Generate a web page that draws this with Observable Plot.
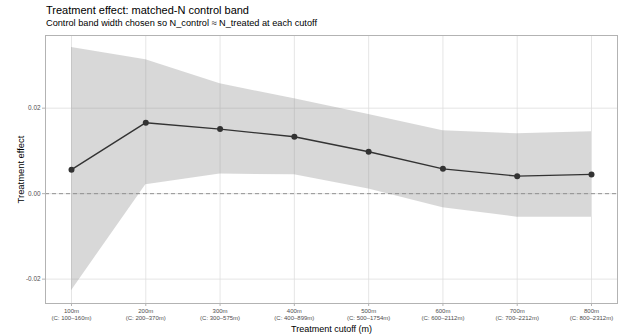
<!DOCTYPE html>
<html>
<head>
<meta charset="utf-8">
<script src="https://cdn.jsdelivr.net/npm/d3@7"></script>
<script src="https://cdn.jsdelivr.net/npm/@observablehq/plot@0.6"></script>
<style>
  body { margin: 0; background: #fff; }
  #wrap { width: 618px; font-family: "Liberation Sans", Arial, Helvetica, sans-serif; }
  #head { position: relative; height: 30px; }
  #title { position: absolute; left: 46px; top: 5px; font-size: 11px; line-height: 11px; color: #000; white-space: nowrap; }
  #subtitle { position: absolute; left: 46px; top: 18.7px; font-size: 9.2px; line-height: 9.2px; color: #000; white-space: nowrap; }
  svg { display: block; }
</style>
</head>
<body>
<div id="wrap">
  <div id="head">
    <div id="title">Treatment effect: matched-N control band</div>
    <div id="subtitle">Control band width chosen so N_control ≈ N_treated at each cutoff</div>
  </div>
  <div id="chart"></div>
</div>
<script>
// Treatment cutoff distances (m)
const cutoffs = [100, 200, 300, 400, 500, 600, 700, 800];
// Control band ranges shown under each cutoff
const controlRanges = ["100–160m", "200–370m", "300–575m", "400–899m", "500–1754m", "600–2112m", "700–2212m", "800–2312m"];
// Point estimates of the treatment effect
const estimates = [0.0056, 0.0166, 0.0151, 0.0133, 0.0098, 0.0058, 0.0041, 0.0045];
// Confidence interval bounds
const lower = [-0.0227, 0.0021, 0.0046, 0.0044, 0.0011, -0.0033, -0.0055, -0.0055];
const upper = [0.0342, 0.0313, 0.0257, 0.0222, 0.0185, 0.0147, 0.0140, 0.0145];
// Y-axis ticks
const yTicks = [-0.02, 0.00, 0.02];

const rows = cutoffs.map((c, i) => ({
  cutoff: c,
  label: `${c}m\n(C: ${controlRanges[i]})`,
  est: estimates[i],
  lo: lower[i],
  hi: upper[i]
}));

const labelOf = new Map(rows.map(d => [d.cutoff, d.label]));

const chart = Plot.plot({
  width: 618,
  height: 306,
  marginTop: 5,
  marginLeft: 45,
  marginRight: 1,
  marginBottom: 33,
  style: { fontFamily: '"Liberation Sans", Arial, Helvetica, sans-serif', background: "#fff" },
  x: { domain: [65, 835], label: null },
  y: { domain: [-0.0257, 0.0370], label: null },
  marks: [
    Plot.gridX(cutoffs, { stroke: "#dedede", strokeOpacity: 1, strokeWidth: 0.8 }),
    Plot.gridY(yTicks, { stroke: "#dedede", strokeOpacity: 1, strokeWidth: 0.8 }),
    Plot.areaY(rows, { x: "cutoff", y1: "lo", y2: "hi", fill: "#808080", fillOpacity: 0.31 }),
    Plot.ruleY([0], { stroke: "#8a8a8a", strokeWidth: 0.9, strokeDasharray: "4,3" }),
    Plot.line(rows, { x: "cutoff", y: "est", stroke: "#333333", strokeWidth: 1.4 }),
    Plot.dot(rows, { x: "cutoff", y: "est", r: 3, fill: "#333333", stroke: "none" }),
    Plot.frame({ stroke: "#b3b3b3", strokeWidth: 1 }),
    Plot.axisX(cutoffs, {
      tickFormat: d => labelOf.get(d),
      tickSize: 3,
      tickPadding: 1.5,
      stroke: "#b3b3b3",
      fill: "#4d4d4d",
      fontSize: 6,
      lineHeight: 1.15,
      label: null
    }),
    Plot.axisY(yTicks, {
      tickFormat: d => d.toFixed(2),
      tickSize: 3,
      tickPadding: 2,
      stroke: "#b3b3b3",
      fill: "#4d4d4d",
      fontSize: 6.4,
      label: null
    }),
    Plot.text(["Treatment cutoff (m)"], {
      frameAnchor: "bottom", textAnchor: "middle", lineAnchor: "middle",
      dy: 26, fontSize: 9, fill: "#000"
    }),
    Plot.text(["Treatment effect"], {
      frameAnchor: "left", textAnchor: "middle", lineAnchor: "middle",
      dx: -25, rotate: -90, fontSize: 9.4, fill: "#000"
    })
  ]
});

document.getElementById("chart").appendChild(chart);
</script>
</body>
</html>
